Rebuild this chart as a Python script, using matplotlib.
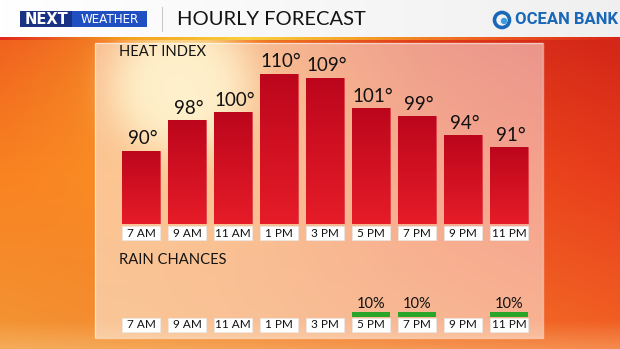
import numpy as np
import matplotlib
matplotlib.use("Agg")
import matplotlib.pyplot as plt
from matplotlib.patches import Rectangle, Circle
from matplotlib.colors import LinearSegmentedColormap

# ---- data ----
times = ["7 AM", "9 AM", "11 AM", "1 PM", "3 PM", "5 PM", "7 PM", "9 PM", "11 PM"]
heat_index = [90, 98, 100, 110, 109, 101, 99, 94, 91]
rain_chance = [0, 0, 0, 0, 0, 10, 10, 0, 10]
title = "HOURLY FORECAST"

plt.rcParams['font.family'] = ['Lato', 'DejaVu Sans']

W, H = 620, 349
fig = plt.figure(figsize=(W / 100, H / 100), dpi=100)

# ---- background (pixel coordinates) ----
bg = fig.add_axes([0, 0, 1, 1])
bg.set_xlim(0, W)
bg.set_ylim(H, 0)
bg.axis('off')

yy, xx = np.mgrid[0:H, 0:W].astype(float)
u = xx / W
v = yy / H
def lerp(a, b, t):
    return a[None, None, :] * (1 - t[..., None]) + b[None, None, :] * t[..., None]
tl, tr = np.array([232, 60, 26.]), np.array([205, 32, 22.])
ml, mr = np.array([248, 120, 30.]), np.array([232, 60, 28.])
bl, br = np.array([242, 150, 55.]), np.array([242, 100, 35.])
top = lerp(tl, tr, u)
mid = lerp(ml, mr, u)
bot = lerp(bl, br, u)
t1 = np.clip(v / 0.5, 0, 1)
t2 = np.clip((v - 0.5) / 0.5, 0, 1)
img = np.where((v < 0.5)[..., None], top * (1 - t1[..., None]) + mid * t1[..., None],
               mid * (1 - t2[..., None]) + bot * t2[..., None])
d = np.hypot(xx - 180, yy - 85)
halo = 0.6 * np.exp(-(d / 180) ** 2)
img = img * (1 - halo[..., None]) + np.array([255, 185, 45.]) * halo[..., None]
core = 0.85 * np.exp(-(d / 72) ** 4)
img = img * (1 - core[..., None]) + np.array([255, 240, 170.]) * core[..., None]
# light haze at the bottom
hz = np.clip((yy - 320) / 29, 0, 1) * 0.35
img = img * (1 - hz[..., None]) + np.array([250, 215, 160.]) * hz[..., None]
bg.imshow(np.clip(img, 0, 255).astype(np.uint8), extent=(0, W, H, 0), aspect='auto', zorder=0)

# header
hdr = np.linspace(1.0, 0.94, 200)[None, :, None] * np.ones((1, 1, 3))
bg.imshow(hdr, extent=(0, W, 37, 0), aspect='auto', zorder=1)
stripe_cmap = LinearSegmentedColormap.from_list(
    "s", ["#e02a1c", "#f5a020", "#f8d040", "#f59a28", "#ec5a20", "#d82418"])
bg.imshow(np.linspace(0, 1, 300)[None, :], cmap=stripe_cmap, extent=(0, W, 40, 37),
          aspect='auto', zorder=1)

# NEXT WEATHER logo
bg.add_patch(Rectangle((20, 11), 127, 16, facecolor="#1f4fc0", edgecolor="none", zorder=2))
bg.add_patch(Rectangle((20, 11), 52, 16, facecolor="#1a3283", edgecolor="none", zorder=2))
bg.text(46, 19.5, "NEXT", color="white", fontsize=10.5, fontweight="heavy",
        ha="center", va="center", zorder=3, family=["DejaVu Sans"])
bg.text(110, 19.5, "WEATHER", color="white", fontsize=8.6, ha="center", va="center",
        zorder=3, family=["DejaVu Sans"])
bg.plot([162, 162], [7, 31], color="#c8c8c8", lw=0.8, zorder=2)
bg.text(177, 19.5, title, color="#141414", fontsize=14.5, ha="left", va="center", zorder=3)

# OCEAN BANK logo
bg.add_patch(Circle((502, 20), 7.5, facecolor="none", edgecolor="#1a68b8", lw=2.6, zorder=2))
bg.add_patch(Circle((504, 21), 3.2, facecolor="#3d9ae0", edgecolor="none", zorder=2))
bg.text(515, 20, "OCEAN BANK", color="#1a68b8", fontsize=12, fontweight="bold",
        ha="left", va="center", zorder=3, family=["Roboto", "DejaVu Sans"])

# translucent panel
bg.add_patch(Rectangle((95, 43), 448, 295, facecolor="white", alpha=0.5,
                       edgecolor="none", zorder=2))
bg.add_patch(Rectangle((95, 43), 448, 295, facecolor="none", edgecolor="white",
                       alpha=0.5, lw=1, zorder=2))
bg.text(119, 52, "HEAT INDEX", color="#141414", fontsize=10.6, ha="left", va="center", zorder=3)
bg.text(119, 260, "RAIN CHANCES", color="#141414", fontsize=10.6, ha="left", va="center", zorder=3)

# ---- heat index bars ----
x = np.arange(len(times))
bw = 38 / 46
base = 71
ax = fig.add_axes([118 / W, 1 - 224 / H, 414 / W, 181 / H])
ax.set_xlim(-0.5, len(times) - 0.5)
ax.set_ylim(base, 118)
ax.axis('off')
ax.patch.set_alpha(0)
bars = ax.bar(x, np.array(heat_index) - base, bottom=base, width=bw,
              color="#d01424", edgecolor="#e04048", linewidth=0.6, zorder=2)
bar_cmap = LinearSegmentedColormap.from_list("b", ["#e61c28", "#bc061c"])
grad = np.linspace(0, 1, 100)[:, None]
for b in bars:
    x0, y0 = b.get_x(), b.get_y()
    im = ax.imshow(grad, cmap=bar_cmap, origin="lower", aspect="auto",
                   extent=(x0, x0 + b.get_width(), y0, y0 + b.get_height()), zorder=3)
    im.set_clip_path(b)
ax.set_xlim(-0.5, len(times) - 0.5)
ax.set_ylim(base, 118)
for xi, val in zip(x, heat_index):
    ax.annotate(f"{val}°", (xi, val), xytext=(1, 2.5), textcoords="offset points",
                ha="center", va="bottom", fontsize=13.5, color="#111111", zorder=4)
xt = ax.get_xaxis_transform()
for xi, lab in zip(x, times):
    ax.add_patch(Rectangle((xi - bw / 2, -0.088), bw, 0.077, transform=xt, clip_on=False,
                           facecolor="white", edgecolor="#e8e8e8", lw=0.5, zorder=4))
    ax.text(xi, -0.05, lab, transform=xt, ha="center", va="center", fontsize=8.5,
            color="#111111", zorder=5, clip_on=False)

# ---- rain chance bars ----
rax = fig.add_axes([118 / W, 1 - 317 / H, 414 / W, 50 / H])
rax.set_xlim(-0.5, len(times) - 0.5)
rax.set_ylim(0, 100)
rax.axis('off')
rax.patch.set_alpha(0)
rax.bar(x, rain_chance, width=bw, color="#2aa52a", edgecolor="none", zorder=2)
for xi, val in zip(x, rain_chance):
    if val > 0:
        rax.annotate(f"{val}%", (xi, val), xytext=(0, 0.5), textcoords="offset points",
                     ha="center", va="bottom", fontsize=10.5, color="#111111", zorder=4)
rxt = rax.get_xaxis_transform()
for xi, lab in zip(x, times):
    rax.add_patch(Rectangle((xi - bw / 2, -0.30), bw, 0.28, transform=rxt, clip_on=False,
                            facecolor="white", edgecolor="#e8e8e8", lw=0.5, zorder=4))
    rax.text(xi, -0.16, lab, transform=rxt, ha="center", va="center", fontsize=8.5,
             color="#111111", zorder=5, clip_on=False)

fig.savefig("out.png", dpi=100)
